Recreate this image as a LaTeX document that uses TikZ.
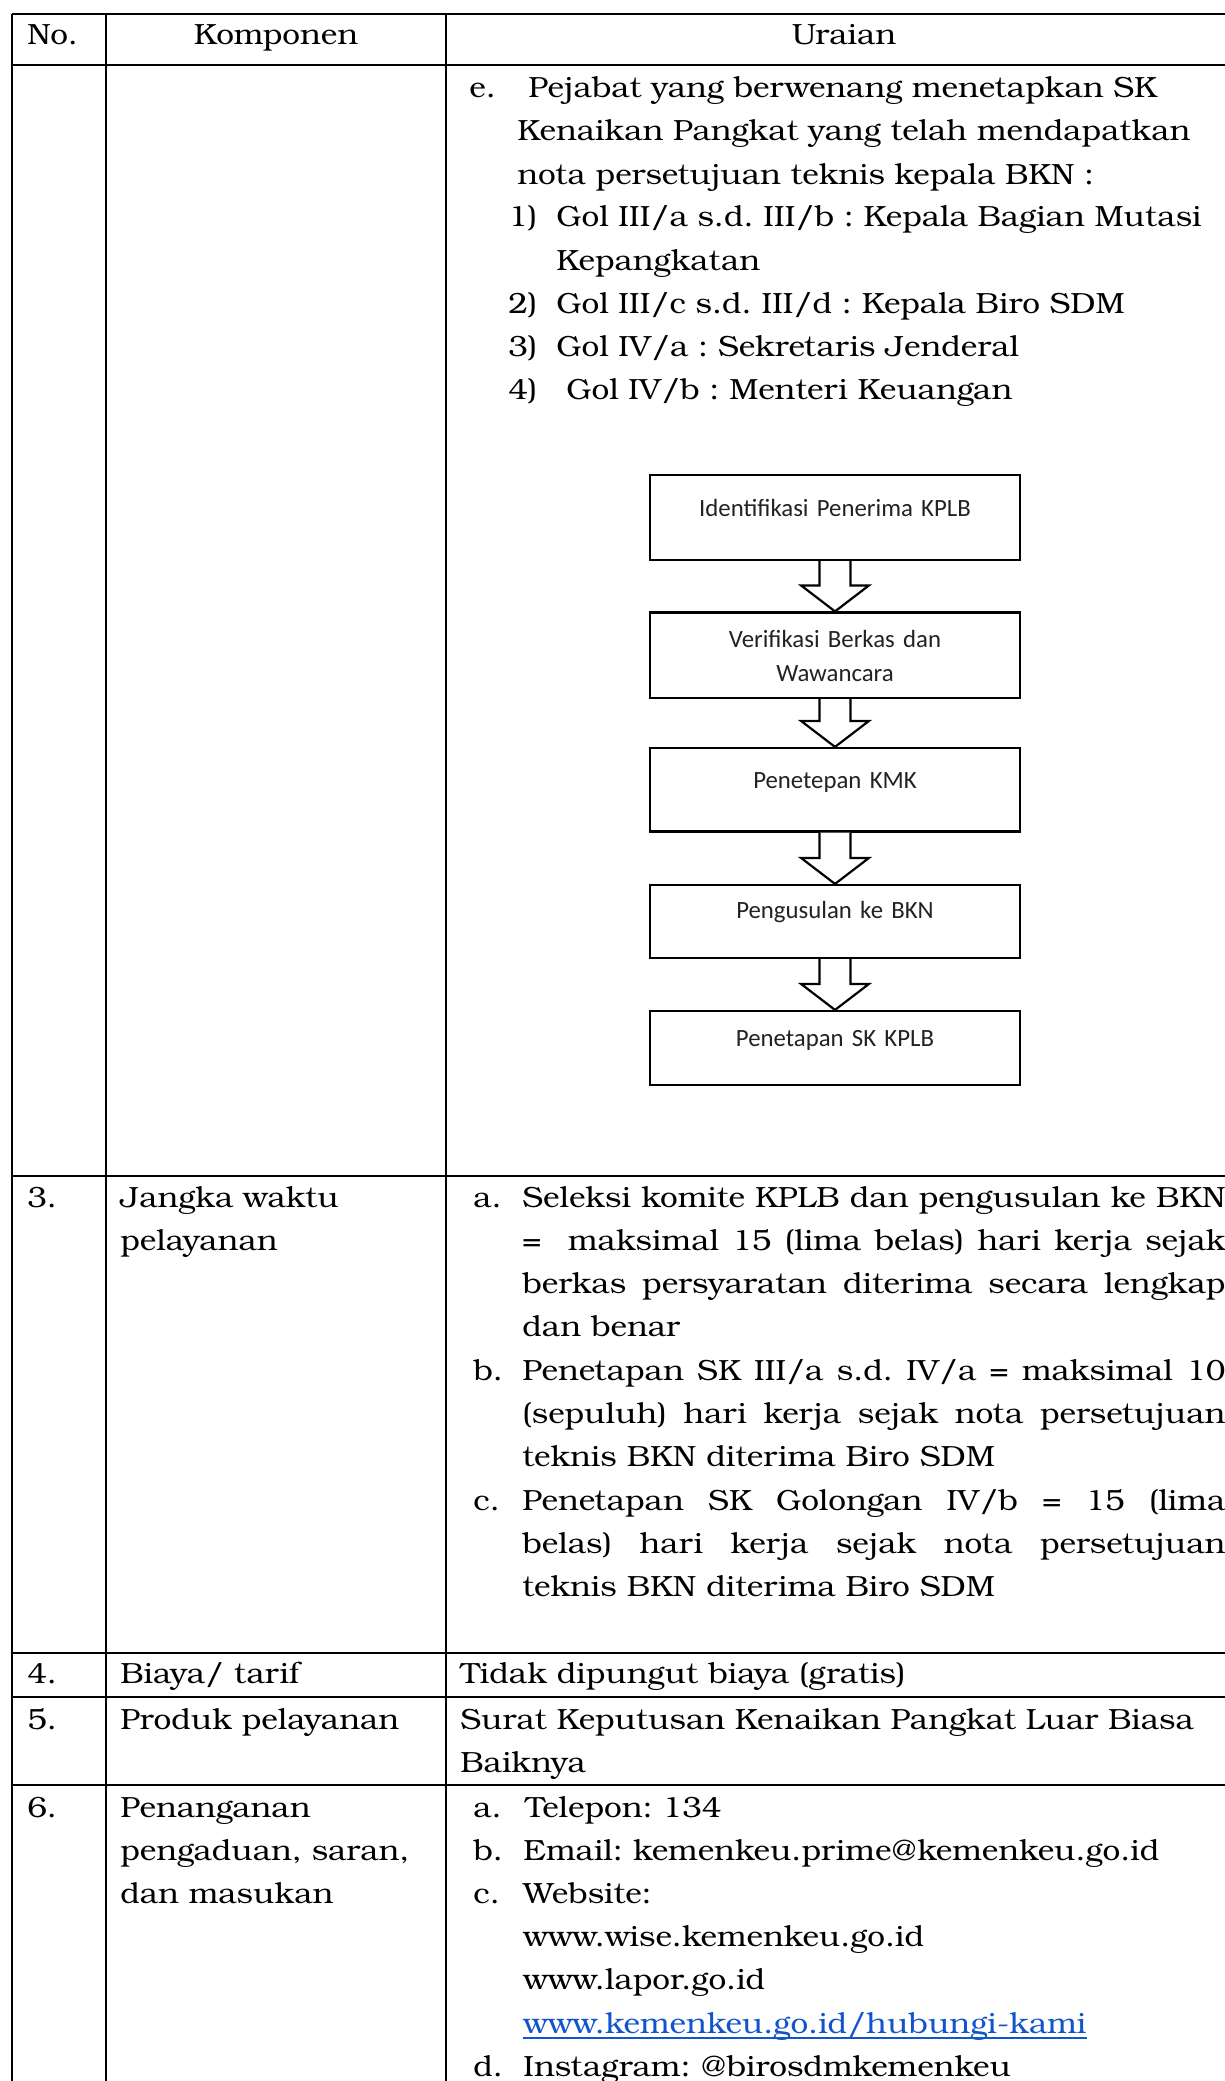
\documentclass[tikz,border=0pt]{standalone}
\usepackage{fontspec}
\setmainfont{TeX Gyre Bonum}[FakeStretch=1.08]
\newfontfamily\flowfont{Carlito}
\usetikzlibrary{calc}
\definecolor{linkblue}{HTML}{1155CC}
\definecolor{flowgray}{HTML}{222222}
\frenchspacing

\begin{document}
\begin{tikzpicture}
        [
            x=0.5pt, y=-0.5pt,
            rule/.style={line width=1pt},
            txt/.style={inner sep=0pt, anchor=base west, font=\fontsize{14.6}{21.65}\selectfont\frenchspacing},
            para/.style={txt, text width=#1, align=left},
            jpara/.style={txt, text width=#1, align=justify},
            box/.style={rectangle, draw=black, line width=1.1pt, minimum width=185pt, inner sep=0pt},
            boxtxt/.style={inner sep=0pt, anchor=base, align=center, text width=180pt, text=flowgray, font=\flowfont\fontsize{12.4}{17}\selectfont},
            hollow/.style={draw=black, line width=1.1pt, fill=white, line join=miter},
        ]
    \clip (0,0) rectangle (1225,2081);
    \fill[white] (0,0) rectangle (1225,2081);

    % table rules
    \foreach \y in {14,65,1176,1653,1697,1785}
        \draw[rule] (12,\y) -- (1240,\y);
    \foreach \x in {12,106,446}
        \draw[rule] (\x,14) -- (\x,2090);

    % header
    \node[txt] (hno) at (27,45) {No.};
    \node[txt, anchor=base] (hkomp) at (276,45) {Komponen};
    \node[txt, anchor=base] (hurai) at (844,45) {Uraian};

    % row 2 (continued)
    \node[para=420pt] (pe) at (469,97.5) {\hangindent=24pt\makebox[29.5pt][l]{e.}Pejabat yang berwenang menetapkan SK\newline Kenaikan Pangkat yang telah mendapatkan\newline nota persetujuan teknis kepala BKN :\par};
    \node[para=420pt] (g1) at (508,227) {\hangindent=24pt\makebox[24pt][l]{1)}Gol III/a s.d. III/b : Kepala Bagian Mutasi\newline Kepangkatan\par};
    \node[para=420pt] (g2) at (508,314) {\makebox[24pt][l]{2)}Gol III/c s.d. III/d : Kepala Biro SDM};
    \node[para=420pt] (g3) at (508,357) {\makebox[24pt][l]{3)}Gol IV/a : Sekretaris Jenderal};
    \node[para=420pt] (g4) at (508,400) {\makebox[29pt][l]{4)}Gol IV/b : Menteri Keuangan};

    % flow
    \foreach \n/\yc/\h in {1/517.5/42.5, 2/655.25/42.75, 3/789.75/41.75, 4/921.5/36.5, 5/1048/37}
        \node[box, minimum height=\h pt] (b\n) at (835,\yc) {};
    \node[boxtxt] (t1) at (835,516) {Identifikasi Penerima KPLB};
    \node[boxtxt] (t2) at (835,647) {Verifikasi Berkas dan\\ Wawancara};
    \node[boxtxt] (t3) at (835,788) {Penetepan KMK};
    \node[boxtxt] (t4) at (835,918) {Pengusulan ke BKN};
    \node[boxtxt] (t5) at (835,1046) {Penetapan SK KPLB};
    \foreach \a/\b in {b1/b2, b2/b3, b3/b4, b4/b5}
        \draw[hollow] ($(\a.south)+(-15.5,0)$) -- ($(\b.north)+(-15.5,-26)$) -- ($(\b.north)+(-34,-26)$) -- (\b.north)
            -- ($(\b.north)+(34,-26)$) -- ($(\b.north)+(15.5,-26)$) -- ($(\a.south)+(15.5,0)$);

    % row 3
    \node[txt] (n3) at (27,1207) {3.};
    \node[para=160pt] (k3) at (120,1207) {Jangka waktu\newline pelayanan};
    \node[jpara=376pt] (ua) at (473,1207) {\hangindent=24.5pt\makebox[24.5pt][l]{a.}Seleksi komite KPLB dan pengusulan ke BKN\linebreak = \ maksimal 15 (lima belas) hari kerja sejak\linebreak berkas persyaratan diterima secara lengkap\linebreak dan benar\par};
    \node[jpara=376pt] (ub) at (473,1380) {\hangindent=24.5pt\makebox[24.5pt][l]{b.}Penetapan SK III/a s.d. IV/a = maksimal 10\linebreak (sepuluh) hari kerja sejak nota persetujuan\linebreak teknis BKN diterima Biro SDM\par};
    \node[jpara=376pt] (uc) at (473,1510) {\hangindent=24.5pt\makebox[24.5pt][l]{c.}Penetapan SK Golongan IV/b = 15 (lima\linebreak belas) hari kerja sejak nota persetujuan\linebreak teknis BKN diterima Biro SDM\par};

    % row 4, 5
    \node[txt] (n4) at (27,1683) {4.};
    \node[txt] (k4) at (120,1683) {Biaya/ tarif};
    \node[txt] (u4) at (460,1683) {Tidak dipungut biaya (gratis)};
    \node[txt] (n5) at (27,1729) {5.};
    \node[txt] (k5) at (120,1729) {Produk pelayanan};
    \node[para=420pt] (u5) at (460,1729) {Surat Keputusan Kenaikan Pangkat Luar Biasa\newline Baiknya};

    % row 6
    \node[txt] (n6) at (27,1817) {6.};
    \node[para=160pt] (k6) at (120,1817) {Penanganan\newline pengaduan, saran,\newline dan masukan};
    \node[txt] (ka) at (473,1817) {\makebox[26pt][l]{a.}Telepon: 134};
    \node[txt] (kb) at (473,1860) {\makebox[25pt][l]{b.}Email: kemenkeu.prime@kemenkeu.go.id};
    \node[para=420pt] (kc) at (473,1903) {\hangindent=25pt\makebox[25pt][l]{c.}Website:\newline www.wise.kemenkeu.go.id\newline www.lapor.go.id\par};
    \node[txt, text=linkblue] (web) at (523,2033) {www.kemenkeu.go.id/hubungi-kami};
    \draw[linkblue, line width=0.9pt] ([yshift=-2.5pt]web.base west) -- ([yshift=-2.5pt]web.base east);
    \node[txt] (kd) at (473,2076) {\makebox[25pt][l]{d.}Instagram: @birosdmkemenkeu};
\end{tikzpicture}
\end{document}
